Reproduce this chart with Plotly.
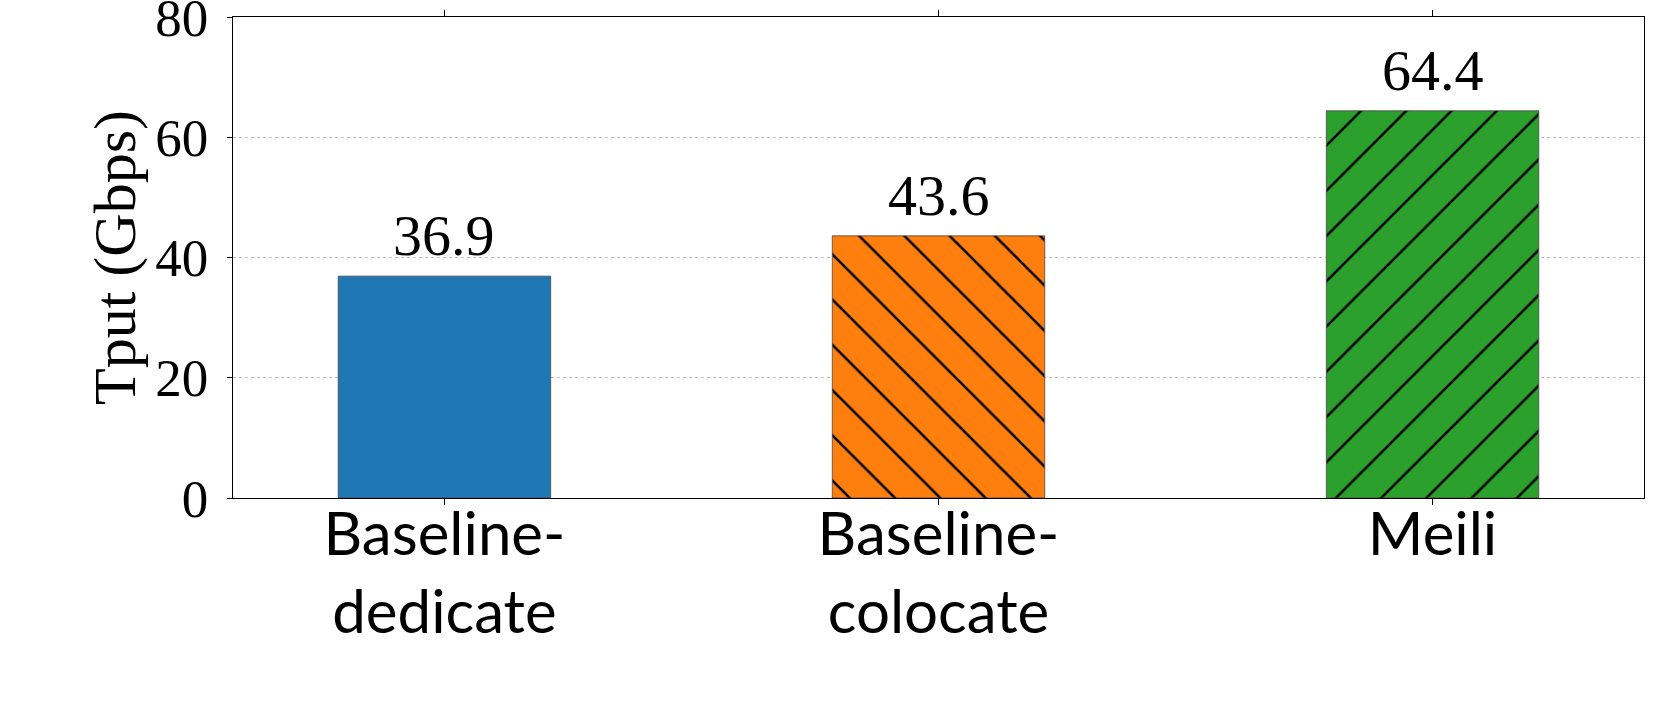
import plotly.graph_objects as go

categories = ["Baseline-<br>dedicate", "Baseline-<br>colocate", "Meili"]
values = [36.9, 43.6, 64.4]
labels = ["36.9", "43.6", "64.4"]
colors = ["#1f77b4", "#ff7f0e", "#2ca02c"]
hatches = ["", "\\", "/"]
y_ticks = [0, 20, 40, 60, 80]

xpos = list(range(len(categories)))

fig = go.Figure()
for x, v, c, h in zip(xpos, values, colors, hatches):
    marker = dict(color=c, line=dict(color="rgba(70,70,70,0.8)", width=1))
    if h:
        marker["pattern"] = dict(shape=h, fgcolor="black", bgcolor=c, fgopacity=1,
                                 size=32, solidity=0.08, fillmode="overlay")
    fig.add_trace(go.Bar(x=[x], y=[v], width=0.43, marker=marker,
                         showlegend=False, hoverinfo="skip"))

for x, v, t in zip(xpos, values, labels):
    fig.add_annotation(x=x, y=v, text=t, showarrow=False, yanchor="bottom",
                       yshift=6, font=dict(family="Liberation Serif", size=58, color="black"))

fig.update_layout(
    width=1661, height=712,
    margin=dict(l=233, r=17, t=17, b=214),
    barmode="overlay",
    plot_bgcolor="white", paper_bgcolor="white",
    font=dict(family="Liberation Serif", color="black"),
)
fig.update_xaxes(
    range=[-0.428, 2.428], tickmode="array", tickvals=xpos, ticktext=categories,
    showline=True, linecolor="black", linewidth=1.3, mirror="ticks",
    ticks="outside", ticklen=6, tickcolor="black", tickwidth=1,
    tickfont=dict(family="Lato", size=60, color="black"),
    ticklabelstandoff=-22,
    showgrid=False, zeroline=False, automargin=False,
)
fig.update_yaxes(
    range=[0, 80], tickmode="array", tickvals=y_ticks,
    showline=True, linecolor="black", linewidth=1.3, mirror=True,
    ticks="outside", ticklen=5, tickcolor="black", tickwidth=1,
    tickfont=dict(family="Liberation Serif", size=53, color="black"),
    ticklabelstandoff=8, ticklabeloverflow="allow",
    showgrid=True, gridcolor="#bbbbbb", griddash="dot", gridwidth=1,
    zeroline=False, automargin=False,
    title=dict(text="Tput (Gbps)", font=dict(family="Liberation Serif", size=60, color="black"), standoff=0),
)

fig.write_html("out.html", config={"displayModeBar": False},
               post_script="document.body.style.margin='0';")
